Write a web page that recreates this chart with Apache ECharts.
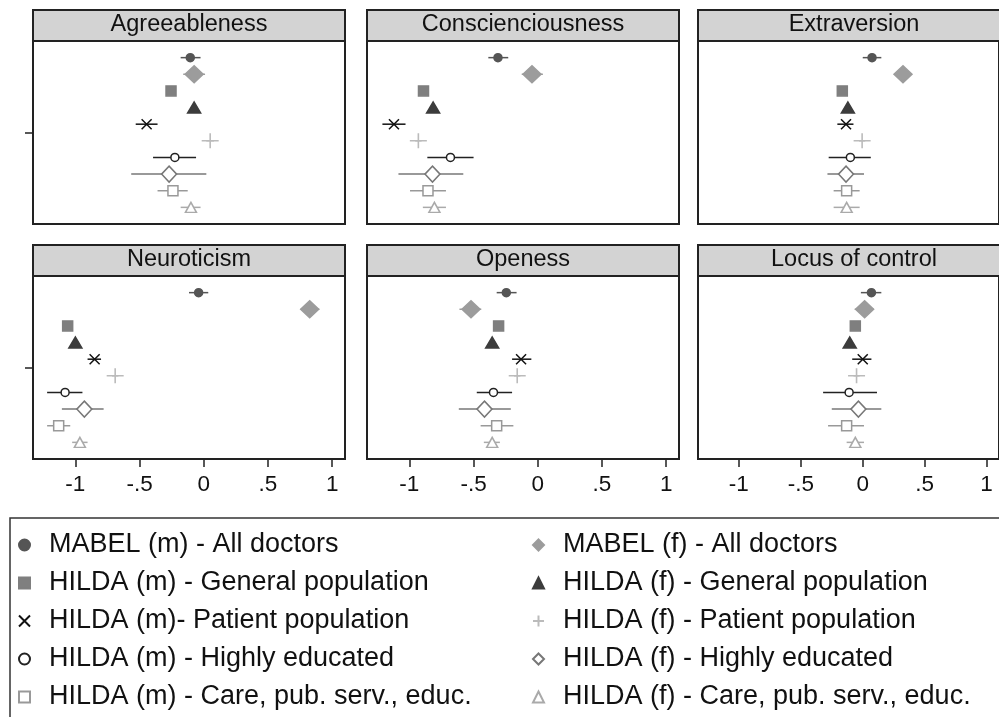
<!DOCTYPE html>
<html>
<head>
<meta charset="utf-8">
<script src="https://cdn.jsdelivr.net/npm/echarts@6/dist/echarts.min.js"></script>
<style>
  html, body { margin: 0; padding: 0; background: #fff; }
  #main { width: 999px; height: 717px; }
</style>
</head>
<body>
<div id="main"></div>
<script>
// panel titles
const traits = ['Agreeableness', 'Conscienciousness', 'Extraversion', 'Neuroticism', 'Openess', 'Locus of control']

// legend labels, top to bottom inside each panel
const groups = [
  'MABEL (m) - All doctors',
  'MABEL (f) - All doctors',
  'HILDA (m) - General population',
  'HILDA (f) - General population',
  'HILDA (m)- Patient population',
  'HILDA (f) - Patient population',
  'HILDA (m) - Highly educated',
  'HILDA (f) - Highly educated',
  'HILDA (m) - Care, pub. serv., educ.',
  'HILDA (f) - Care, pub. serv., educ.'
]

// [estimate, lower, upper] per group
const agreeableness = [
  [-0.105, -0.18, -0.025], [-0.075, -0.16, 0.01], [-0.255, -0.28, -0.23], [-0.075, -0.10, -0.05],
  [-0.445, -0.53, -0.36], [0.05, 0.02, 0.08], [-0.225, -0.395, -0.06], [-0.27, -0.565, 0.02],
  [-0.24, -0.36, -0.125], [-0.10, -0.18, -0.025]
]
const conscienciousness = [
  [-0.31, -0.385, -0.23], [-0.045, -0.125, 0.04], [-0.89, -0.92, -0.86], [-0.815, -0.84, -0.79],
  [-1.12, -1.21, -1.03], [-0.93, -0.955, -0.905], [-0.68, -0.86, -0.5], [-0.82, -1.085, -0.58],
  [-0.855, -0.995, -0.715], [-0.805, -0.895, -0.715]
]
const extraversion = [
  [0.075, 0.0, 0.15], [0.325, 0.28, 0.37], [-0.165, -0.19, -0.14], [-0.12, -0.145, -0.095],
  [-0.135, -0.205, -0.075], [-0.005, -0.03, 0.02], [-0.10, -0.275, 0.065], [-0.135, -0.285, 0.01],
  [-0.13, -0.235, -0.025], [-0.13, -0.235, -0.025]
]
const neuroticism = [
  [-0.04, -0.115, 0.035], [0.825, 0.755, 0.9], [-1.06, -1.085, -1.035], [-1.0, -1.025, -0.975],
  [-0.85, -0.905, -0.8], [-0.69, -0.715, -0.665], [-1.08, -1.22, -0.945], [-0.93, -1.105, -0.78],
  [-1.13, -1.22, -1.04], [-0.965, -1.025, -0.905]
]
const openess = [
  [-0.245, -0.32, -0.165], [-0.52, -0.61, -0.44], [-0.305, -0.33, -0.28], [-0.355, -0.38, -0.33],
  [-0.13, -0.2, -0.05], [-0.16, -0.185, -0.135], [-0.345, -0.475, -0.2], [-0.415, -0.615, -0.21],
  [-0.32, -0.445, -0.19], [-0.355, -0.42, -0.295]
]
const locusOfControl = [
  [0.07, -0.015, 0.15], [0.015, -0.065, 0.09], [-0.06, -0.085, -0.035], [-0.105, -0.13, -0.08],
  [0.0, -0.085, 0.07], [-0.05, -0.075, -0.025], [-0.11, -0.32, 0.115], [-0.035, -0.25, 0.15],
  [-0.13, -0.28, 0.01], [-0.06, -0.13, 0.01]
]
const panels = [agreeableness, conscienciousness, extraversion, neuroticism, openess, locusOfControl]

const xTicks = [-1, -0.5, 0, 0.5, 1]

const FONT = '"Liberation Sans", Arial, sans-serif'

// marker styles, one per group
const markers = [
  { symbol: 'circle', size: 8, fill: '#555', stroke: '#555' },
  { symbol: 'diamond', size: [18, 17], fill: '#9c9c9c', stroke: '#9c9c9c' },
  { symbol: 'rect', size: 10, fill: '#7f7f7f', stroke: '#7f7f7f' },
  { symbol: 'triangle', size: [13, 11], fill: '#3c3c3c', stroke: '#3c3c3c' },
  { symbol: 'path://M0,0L10,10M10,0L0,10', size: 10, fill: 'transparent', stroke: '#111' },
  { symbol: 'path://M5,0L5,10M0,5L10,5', size: [17, 15], fill: 'transparent', stroke: '#bbb' },
  { symbol: 'circle', size: 8, fill: '#fff', stroke: '#222' },
  { symbol: 'diamond', size: [15, 16], fill: '#fff', stroke: '#777' },
  { symbol: 'rect', size: 10, fill: '#fff', stroke: '#999' },
  { symbol: 'triangle', size: [11, 10], fill: '#fff', stroke: '#aaa' }
]

const colLeft = [33, 367, 698]
const rowTop = [41, 276]
const panelW = 312
const panelH = 183
const stripH = 31

const chart = echarts.init(document.getElementById('main'))

const grid = [], xAxis = [], yAxis = [], series = [], graphic = []

panels.forEach((rows, p) => {
  const col = p % 3
  const row = Math.floor(p / 3)
  const bottom = row === 1
  grid.push({
    left: colLeft[col], top: rowTop[row], width: panelW, height: panelH,
    show: true, borderColor: '#222', borderWidth: 2, backgroundColor: '#fff'
  })
  xAxis.push({
    type: 'value', gridIndex: p, min: -1.33, max: 1.1, position: 'bottom',
    axisLine: { show: false, onZero: false },
    splitLine: { show: false },
    axisTick: {
      show: bottom, customValues: xTicks, length: 8,
      lineStyle: { color: '#222', width: 1.5 }
    },
    axisLabel: {
      show: bottom, customValues: xTicks, margin: 14,
      fontFamily: FONT, fontSize: 22.5, color: '#111',
      formatter: v => (v === 0 ? '0' : String(v).replace('0.', '.'))
    }
  })
  yAxis.push({
    type: 'value', gridIndex: p, min: 0, max: 11, inverse: true, position: 'left',
    axisLine: { show: false, onZero: false },
    splitLine: { show: false },
    axisLabel: { show: false },
    axisTick: {
      show: col === 0, customValues: [5.5], length: 8,
      lineStyle: { color: '#222', width: 1.5 }
    }
  })

  // confidence intervals
  series.push({
    type: 'custom', xAxisIndex: p, yAxisIndex: p, silent: true, z: 2,
    data: rows.map((r, g) => [r[1], r[2], g + 1, g]),
    encode: { x: [0, 1], y: 2 },
    renderItem: (params, api) => {
      const a = api.coord([api.value(0), api.value(2)])
      const b = api.coord([api.value(1), api.value(2)])
      return {
        type: 'line',
        shape: { x1: a[0], y1: a[1], x2: b[0], y2: b[1] },
        style: { stroke: markers[api.value(3)].stroke, lineWidth: 1.5 }
      }
    }
  })

  // point estimates
  rows.forEach((r, g) => {
    const m = markers[g]
    series.push({
      type: 'scatter', name: groups[g], xAxisIndex: p, yAxisIndex: p, z: 3, silent: true,
      symbol: m.symbol, symbolSize: m.size,
      itemStyle: { color: m.fill, borderColor: m.stroke, borderWidth: 1.5, opacity: 1 },
      data: [[r[0], g + 1]]
    })
  })

  // title strip
  graphic.push({
    type: 'rect', z: 10,
    shape: { x: colLeft[col], y: rowTop[row] - stripH, width: panelW, height: stripH },
    style: { fill: '#d3d3d3', stroke: '#222', lineWidth: 2 }
  })
  graphic.push({
    type: 'text', z: 11,
    x: colLeft[col] + panelW / 2, y: rowTop[row] - stripH / 2 - 1,
    style: {
      text: traits[p], font: '23.5px ' + FONT, fill: '#111',
      align: 'center', verticalAlign: 'middle'
    }
  })
})

// legend frame
graphic.push({
  type: 'rect', z: 0,
  shape: { x: 10, y: 518, width: 1000, height: 220 },
  style: { fill: 'none', stroke: '#333', lineWidth: 1.5 }
})

const legendBase = {
  orient: 'vertical', top: 526, padding: 0, itemGap: 0,
  itemWidth: 11, itemHeight: 11, selectedMode: false,
  textStyle: { fontFamily: FONT, fontSize: 27, color: '#111', lineHeight: 38, padding: [0, 0, 0, 14] }
}

chart.setOption({
  backgroundColor: '#fff',
  animation: false,
  grid, xAxis, yAxis, series, graphic,
  legend: [
    Object.assign({}, legendBase, { left: 18, data: groups.filter((n, i) => i % 2 === 0) }),
    Object.assign({}, legendBase, { left: 532, data: groups.filter((n, i) => i % 2 === 1) })
  ]
})
</script>
</body>
</html>
